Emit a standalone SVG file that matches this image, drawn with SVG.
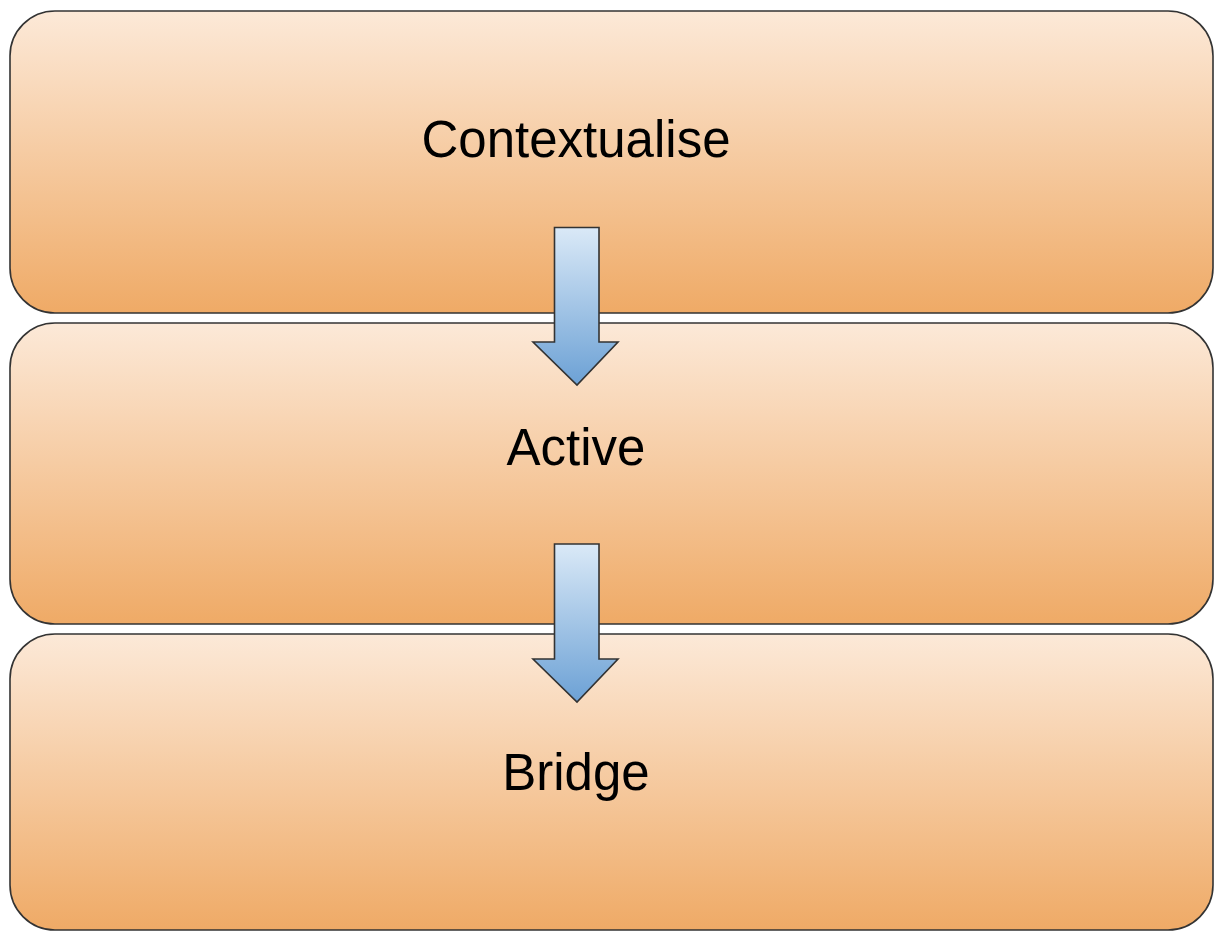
<svg xmlns="http://www.w3.org/2000/svg" width="1214" height="932" viewBox="0 0 1214 932">
<defs>
<linearGradient id="boxg" x1="0" y1="0" x2="0" y2="1">
<stop offset="0" stop-color="#FCE9D8"/>
<stop offset="1" stop-color="#EFAA66"/>
</linearGradient>
<linearGradient id="arrg" x1="0" y1="0" x2="0" y2="1">
<stop offset="0" stop-color="#DAE9F7"/>
<stop offset="1" stop-color="#6CA1D5"/>
</linearGradient>
</defs>
<style>
.box{fill:url(#boxg);stroke:#333333;stroke-width:1.6}
.lbl{font-family:"Liberation Sans",Arial,sans-serif;font-size:51px;fill:#000000;text-anchor:middle}
.arr{fill:url(#arrg);stroke:#333333;stroke-width:1.6;stroke-linejoin:miter}
</style>
<rect width="1214" height="932" fill="#FFFFFF"/>
<g id="node-contextualise">
<rect class="box" x="10" y="11" width="1203" height="302" rx="45" ry="45"/>
<text class="lbl" x="576" y="157">Contextualise</text>
</g>
<g id="node-active">
<rect class="box" x="10" y="323" width="1203" height="301" rx="45" ry="45"/>
<text class="lbl" x="576" y="465">Active</text>
</g>
<g id="node-bridge">
<rect class="box" x="10" y="634" width="1203" height="296" rx="45" ry="45"/>
<text class="lbl" x="576" y="790">Bridge</text>
</g>
<g id="connectors">
<path class="arr" d="M554.5,227.5 H599 V342 H618 L577,385 L533,342 H554.5 Z"/>
<path class="arr" d="M554.5,544 H599 V659 H618 L577,702 L533,659 H554.5 Z"/>
</g>
</svg>
